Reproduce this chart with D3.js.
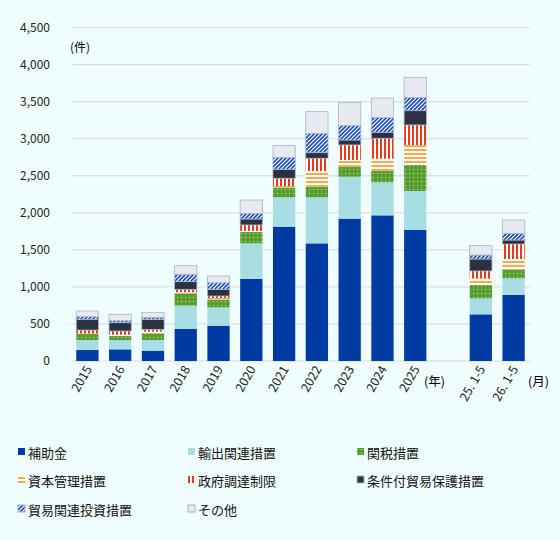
<!DOCTYPE html><html><head><meta charset="utf-8"><script src="https://cdn.jsdelivr.net/npm/d3@7"></script>
<style>body{margin:0;background:#f0fdfe}svg{font-family:"Noto Sans CJK JP",sans-serif}</style></head><body><svg id="c" width="560" height="540"></svg><script>
const categories=["2015","2016","2017","2018","2019","2020","2021","2022","2023","2024","2025","","25. 1-5","26. 1-5"];
const seriesNames=["補助金","輸出関連措置","関税措置","資本管理措置","政府調達制限","条件付貿易保護措置","貿易関連投資措置","その他"];
const subsidy=[148,157,140,432,477,1107,1813,1588,1921,1966,1768,0,630,891];
const exportM=[135,126,143,315,247,481,396,621,567,446,527,0,216,225];
const tariff=[81,54,90,166,108,153,135,144,135,157,351,0,180,121];
const capital=[10,18,23,14,18,14,18,212,90,162,270,0,90,140];
const govProc=[44,50,31,40,27,81,104,171,203,275,270,0,99,202];
const conditional=[144,112,135,104,90,81,121,76,67,81,193,0,162,54];
const investment=[36,27,28,99,90,76,162,261,194,198,176,0,54,90];
const other=[77,86,67,117,90,180,158,293,310,265,274,0,126,180];
const yTicks=[0,500,1000,1500,2000,2500,3000,3500,4000,4500];
const series=[subsidy,exportM,tariff,capital,govProc,conditional,investment,other];
const svg=d3.select("#c");
const defs=svg.append("defs");
function pat(id,bg,draw){const p=defs.append("pattern").attr("id",id).attr("patternUnits","userSpaceOnUse").attr("width",4).attr("height",4);p.append("rect").attr("width",4).attr("height",4).attr("fill",bg);draw(p);}
pat("pG","#5a9e32",p=>{p.append("rect").attr("x",1).attr("y",1).attr("width",1).attr("height",1).attr("fill","#c8e6a8");});
pat("pO","#ffffff",p=>{p.append("path").attr("d","M0,1 L1,3 L2,1 L3,3 L4,1").attr("stroke","#f7941d").attr("fill","none").attr("stroke-width",1);});
pat("pR","#ffffff",p=>{p.append("rect").attr("x",0).attr("width",2).attr("height",4).attr("fill","#e83a1a");});
pat("pB","#ffffff",p=>{p.append("path").attr("d","M0,4 L4,0 M-1,1 L1,-1 M3,5 L5,3").attr("stroke","#1b4fb5").attr("stroke-width",1.6);});
const fills=["#003ba3","#a8dde3","url(#pG)","url(#pO)","url(#pR)","#2a3242","url(#pB)","#e8e9f0"];
const x=d3.scaleBand().domain(categories.map((c,i)=>i)).range([71,530]).paddingInner(0.32).paddingOuter(0.16);
const y=d3.scaleLinear().domain([0,4500]).range([361,27.6]);
const g=svg.append("g");
g.selectAll("line.grid").data(yTicks).join("line").attr("x1",71).attr("x2",530).attr("y1",d=>y(d)).attr("y2",d=>y(d)).attr("stroke","#d9d9d9").attr("stroke-width",1);
g.selectAll("text.yt").data(yTicks).join("text").attr("x",50).attr("y",d=>y(d)+4).attr("text-anchor","end").attr("font-size",12).attr("fill","#222").text(d=>d3.format(",")(d));
svg.append("text").attr("x",70).attr("y",52).attr("font-size",12).text("(件)");
const stack=categories.map((c,i)=>{let acc=0;return series.map((s,k)=>{const y0=acc;acc+=s[i];return {i,k,y0,y1:acc};});});
stack.forEach(col=>{if(col[7].y1===0)return;g.selectAll(null).data(col).join("rect").attr("x",d=>x(d.i)).attr("width",x.bandwidth()).attr("y",d=>y(d.y1)).attr("height",d=>y(d.y0)-y(d.y1)).attr("fill",d=>fills[d.k]).attr("stroke",d=>d.k>=5?"#a9b3c8":"none").attr("stroke-width",0.8);});
categories.forEach((c,i)=>{if(!c)return;svg.append("text").attr("transform",`translate(${x(i)+x.bandwidth()/2+5},369) rotate(-60)`).attr("text-anchor","end").attr("font-size",12.5).attr("fill","#222").text(c);});
svg.append("text").attr("x",424).attr("y",386).attr("font-size",12.5).text("(年)");
svg.append("text").attr("x",528).attr("y",386).attr("font-size",12.5).text("(月)");
const lx=[18,188,357],ly=[453,481,510];
seriesNames.forEach((n,k)=>{const cx=lx[k%3],cy=ly[Math.floor(k/3)];svg.append("rect").attr("x",cx).attr("y",cy-5).attr("width",7).attr("height",7).attr("fill",fills[k]).attr("stroke",k>=5?"#a9b3c8":"none");svg.append("text").attr("x",cx+10).attr("y",cy+5).attr("font-size",13).attr("fill","#111").text(n);});
</script></body></html>
